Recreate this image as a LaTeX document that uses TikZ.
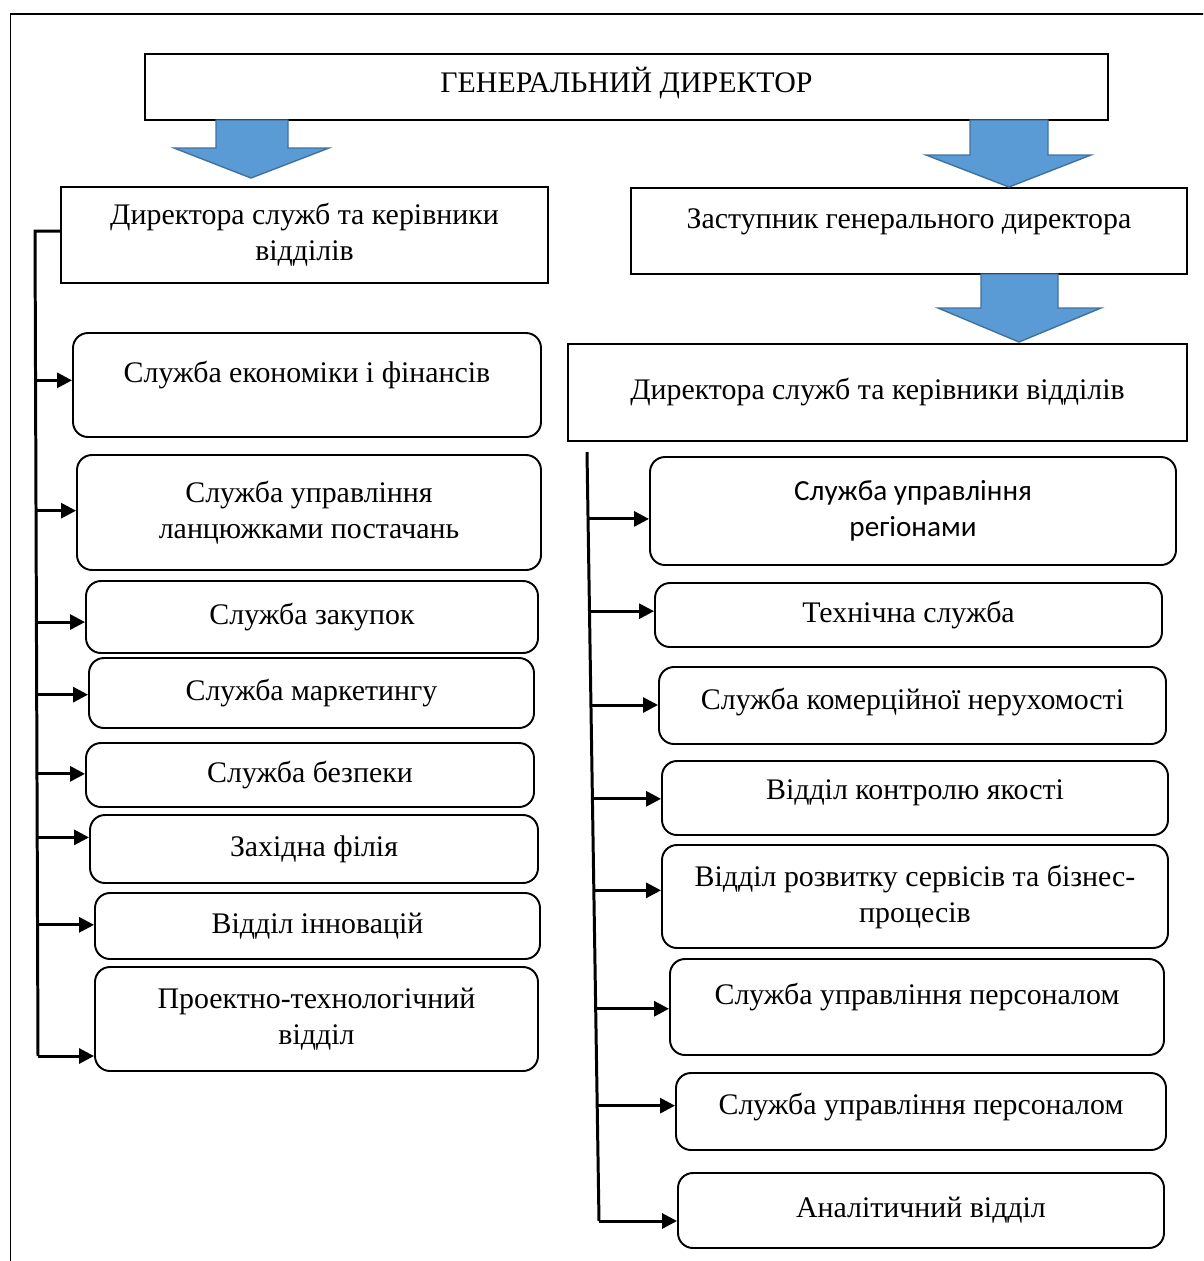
\documentclass[tikz,border=0pt]{standalone}
\usepackage{fontspec}
\setmainfont{Liberation Serif}
\newfontfamily\regionfont{Carlito}
\usetikzlibrary{arrows.meta, positioning, calc}
\definecolor{arrowblue}{RGB}{91,155,213}
\definecolor{arrowedge}{RGB}{65,113,156}
\tikzset{
  headbox/.style  = {draw, line width=1.1pt, fill=white, align=center,
                     font=\fontsize{17}{20.5}\selectfont, inner sep=2pt},
  unitbox/.style  = {headbox, rounded corners=0.3cm},
  lift/.style     = {text depth=#1},
  conn/.style     = {line width=1.7pt, -{Triangle[length=0.3cm, width=0.3cm]}},
  trunk/.style    = {line width=1.7pt},
  blockarr/.style = {fill=arrowblue, draw=arrowedge, line width=0.8pt},
}

\begin{document}
\begin{tikzpicture}

\clip (0,0) rectangle (24.06,-25.22);

% outer frame
\draw[line width=0.85pt] (0.21,-0.28) rectangle (24.8,-26);

% top level
\node[headbox, minimum width=19.26cm, minimum height=1.32cm, lift=0.27cm] (gd) at (12.53,-1.74)
  {ГЕНЕРАЛЬНИЙ ДИРЕКТОР};
\node[headbox, minimum width=9.74cm, minimum height=1.92cm] (dirL) at (6.09,-4.70)
  {Директора служб та керівники\\відділів};
\node[headbox, minimum width=11.12cm, minimum height=1.72cm, lift=0.49cm] (zast) at (18.18,-4.62)
  {Заступник генерального директора};
\node[headbox, minimum width=12.38cm, minimum height=1.94cm] (dirR) at (17.55,-7.85)
  {Директора служб та керівники відділів};

% blue arrows
\filldraw[blockarr] (4.32,-2.40) -- (5.76,-2.40) -- (5.76,-2.96) -- (6.58,-2.96)
  -- (5.02,-3.56) -- (3.48,-2.96) -- (4.32,-2.96) -- cycle;
\filldraw[blockarr] (19.40,-2.40) -- (20.96,-2.40) -- (20.96,-3.10) -- (21.82,-3.10)
  -- (20.18,-3.74) -- (18.52,-3.10) -- (19.40,-3.10) -- cycle;
\filldraw[blockarr] (19.62,-5.48) -- (21.16,-5.48) -- (21.16,-6.16) -- (22.02,-6.16)
  -- (20.38,-6.84) -- (18.76,-6.16) -- (19.62,-6.16) -- cycle;

% left column
\node[unitbox, minimum width=9.36cm, minimum height=2.08cm, lift=0.53cm] (L1) at (6.14,-7.70)
  {Служба економіки і фінансів};
\node[unitbox, minimum width=9.28cm, minimum height=2.30cm] (L2) at (6.18,-10.25)
  {Служба управління\\ланцюжками постачань};
\node[unitbox, minimum width=9.04cm, minimum height=1.44cm] (L3) at (6.24,-12.34)
  {Служба закупок};
\node[unitbox, minimum width=8.90cm, minimum height=1.40cm] (L4) at (6.23,-13.86)
  {Служба маркетингу};
\node[unitbox, minimum width=8.96cm, minimum height=1.28cm] (L5) at (6.20,-15.50)
  {Служба безпеки};
\node[unitbox, minimum width=8.96cm, minimum height=1.36cm] (L6) at (6.28,-16.98)
  {Західна філія};
\node[unitbox, minimum width=8.90cm, minimum height=1.32cm] (L7) at (6.35,-18.52)
  {Відділ інновацій};
\node[unitbox, minimum width=8.86cm, minimum height=2.08cm] (L8) at (6.33,-20.38)
  {Проектно-технологічний\\відділ};

% right column
\node[unitbox, minimum width=10.52cm, minimum height=2.16cm, font=\regionfont\fontsize{16.6}{20.5}\selectfont] (R1) at (18.26,-10.22)
  {Служба управління\\регіонами};
\node[unitbox, minimum width=10.14cm, minimum height=1.28cm] (R2) at (18.17,-12.30)
  {Технічна служба};
\node[unitbox, minimum width=10.14cm, minimum height=1.54cm, lift=0.27cm] (R3) at (18.25,-14.11)
  {Служба комерційної нерухомості};
\node[unitbox, minimum width=10.12cm, minimum height=1.48cm, lift=0.33cm] (R4) at (18.30,-15.96)
  {Відділ контролю якості};
\node[unitbox, minimum width=10.12cm, minimum height=2.06cm] (R5) at (18.30,-17.93)
  {Відділ розвитку сервісів та бізнес-\\процесів};
\node[unitbox, minimum width=9.88cm, minimum height=1.92cm, lift=0.53cm] (R6) at (18.34,-20.14)
  {Служба управління персоналом};
\node[unitbox, minimum width=9.80cm, minimum height=1.54cm, lift=0.31cm] (R7) at (18.42,-22.23)
  {Служба управління персоналом};
\node[unitbox, minimum width=9.72cm, minimum height=1.50cm] (R8) at (18.42,-24.21)
  {Аналітичний відділ};

% trunks
\coordinate (lt) at (0.70,-4.62);
\coordinate (lb) at (0.76,-21.12);
\coordinate (rt) at (11.74,-9.04);
\coordinate (rb) at (11.98,-24.42);
\draw[trunk] (lt -| dirL.west) -- (lt) -- (lb);
\draw[trunk] (rt) -- (rb);

% branches
\foreach \n/\p in {L1/0.181, L2/0.339, L3/0.474, L4/0.562, L5/0.658, L6/0.735, L7/0.841, L8/1} {
  \path (lt) -- (lb) coordinate[pos=\p] (s\n);
  \draw[conn] (s\n) -- (s\n -| \n.west);
}
\foreach \n/\p in {R1/0.087, R2/0.207, R3/0.329, R4/0.451, R5/0.570, R6/0.724, R7/0.850, R8/1} {
  \path (rt) -- (rb) coordinate[pos=\p] (s\n);
  \draw[conn] (s\n) -- (s\n -| \n.west);
}

\end{tikzpicture}
\end{document}
